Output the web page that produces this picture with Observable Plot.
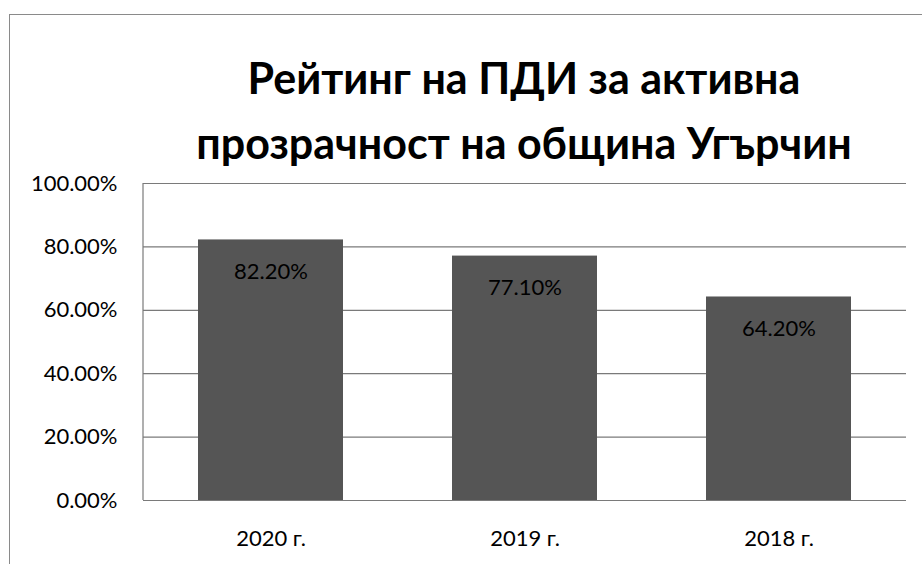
<!DOCTYPE html>
<html>
<head>
<meta charset="utf-8">
<script src="https://cdn.jsdelivr.net/npm/d3@7"></script>
<script src="https://cdn.jsdelivr.net/npm/@observablehq/plot@0.6"></script>
<style>
  html, body { margin: 0; padding: 0; background: #fff; }
  #wrap { position: relative; width: 922px; height: 564px; overflow: hidden; font-family: Lato, "Open Sans", sans-serif; }
  #frame { position: absolute; left: 9px; top: 14px; width: 930px; height: 600px; border: 1.5px solid #8a8a8a; box-sizing: border-box; }
  #title { position: absolute; left: 0; top: 45px; width: 1048px; text-align: center; font-weight: bold; font-size: 43px; line-height: 65px; color: #000; }
  #chart { position: absolute; left: 0; top: 170px; }
</style>
</head>
<body>
<div id="wrap">
  <div id="frame"></div>
  <div id="title">Рейтинг на ПДИ за активна<br>прозрачност на община Угърчин</div>
  <div id="chart"></div>
</div>
<script>
const years = ["2020 г.", "2019 г.", "2018 г."];
const values = [0.822, 0.771, 0.642];
const yTicks = [0, 0.2, 0.4, 0.6, 0.8, 1.0];

const data = years.map((y, i) => ({year: y, value: values[i]}));
const pct = d => (d * 100).toFixed(2) + "%";

const plot = Plot.plot({
  width: 922,
  height: 394,
  marginLeft: 143,
  marginRight: 16,
  marginTop: 13,
  marginBottom: 64,
  style: {fontFamily: "Lato, 'Open Sans', sans-serif", fontSize: "22px", color: "#000", background: "transparent"},
  x: {domain: years, paddingInner: 0.43, paddingOuter: 0.215, label: null, tickSize: 0, tickPadding: 30},
  y: {domain: [0, 1], ticks: yTicks, tickFormat: pct, label: null, tickSize: 0, tickPadding: 26},
  marks: [
    Plot.gridY(yTicks, {stroke: "#7a7a7a", strokeOpacity: 1, strokeWidth: 1.2}),
    Plot.barY(data, {x: "year", y: "value", fill: "#555555"}),
    Plot.text(data, {x: "year", y: "value", text: d => pct(d.value), dy: 32, fill: "#000", fontSize: 22})
  ]
});
// left frame line of the plot area
const svg = d3.select(plot);
svg.append("line").attr("x1", 143).attr("x2", 143).attr("y1", 13).attr("y2", 330).attr("stroke", "#7a7a7a").attr("stroke-width", 1.2);
document.getElementById("chart").appendChild(plot);
</script>
</body>
</html>
